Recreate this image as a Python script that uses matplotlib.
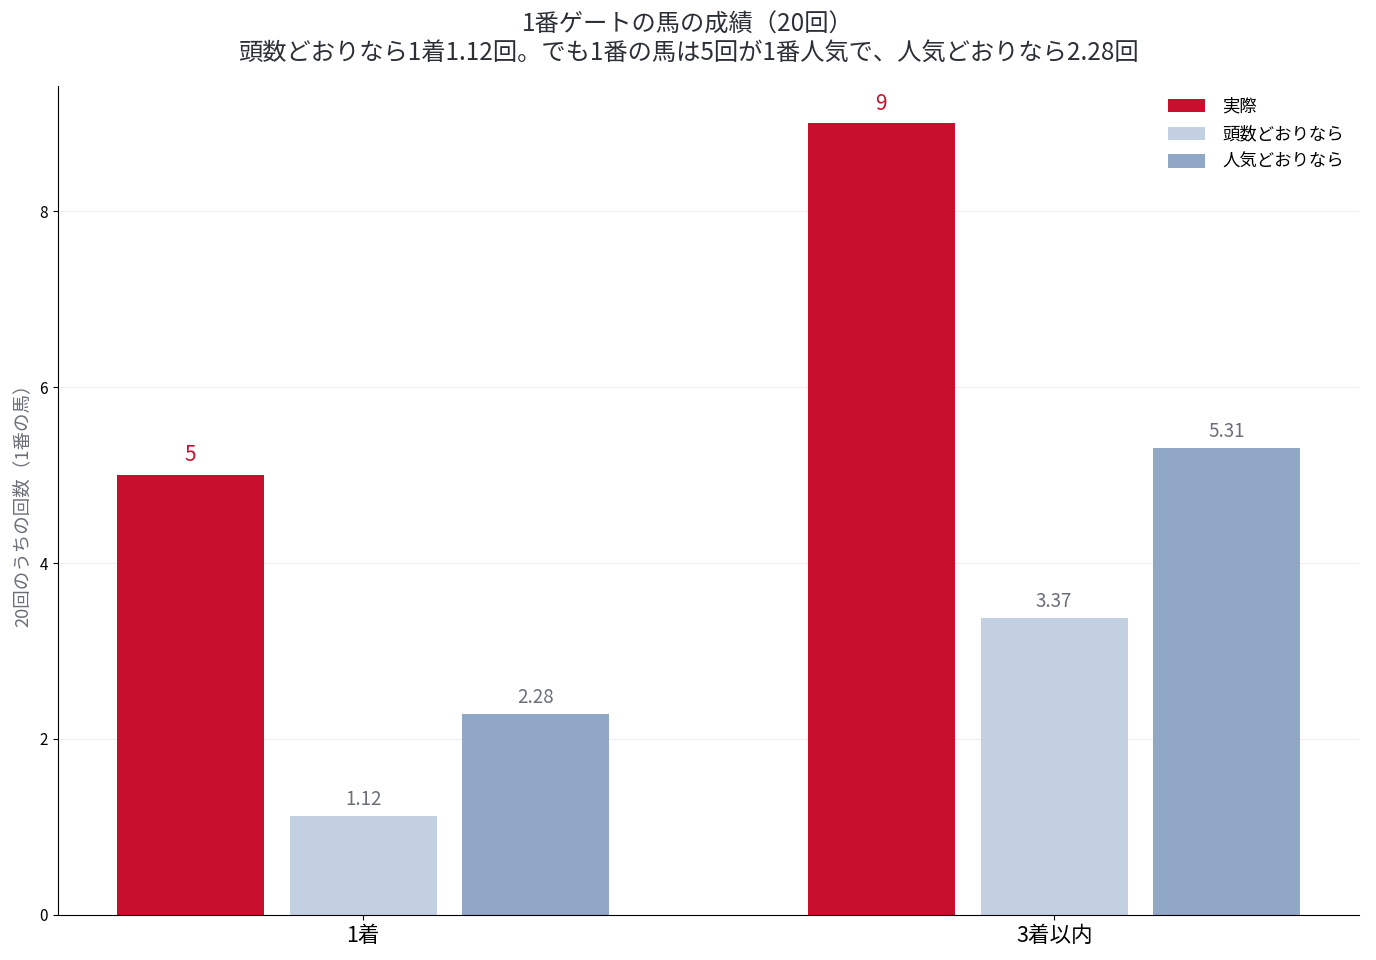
import matplotlib
matplotlib.use('Agg')
import matplotlib.pyplot as plt
import numpy as np

plt.rcParams['font.family'] = ['Noto Sans CJK JP', 'DejaVu Sans']

categories = ['1着', '3着以内']
series_names = ['実際', '頭数どおりなら', '人気どおりなら']
actual = [5, 9]
by_count = [1.12, 3.37]
by_popularity = [2.28, 5.31]
colors = ['#C8102E', '#C3D0E1', '#91A7C6']

fig = plt.figure(figsize=(13.76, 9.6), dpi=100)
ax = fig.add_axes([0.042, 0.047, 0.946, 0.863])

x = np.arange(len(categories))
w = 0.2125
offs = [-0.25, 0, 0.25]
values = [actual, by_count, by_popularity]
for i in range(3):
    bars = ax.bar(x + offs[i], values[i], w, color=colors[i], label=series_names[i], zorder=2)
    for b, v in zip(bars, values[i]):
        if i == 0:
            ax.text(b.get_x() + b.get_width() / 2, v + 0.1, f'{v}', ha='center', va='bottom',
                    color='#C8102E', fontsize=15)
        else:
            ax.text(b.get_x() + b.get_width() / 2, v + 0.07, f'{v:.2f}', ha='center', va='bottom',
                    color='#6b6f78', fontsize=13.5)

ax.set_ylim(0, 9.42)
ax.set_xticks(x)
ax.set_xticklabels(categories, fontsize=15.5)
ax.tick_params(axis='y', labelsize=11)
ax.set_yticks([0, 2, 4, 6, 8])
ax.yaxis.grid(True, color='#eeeeee', linewidth=0.8, zorder=0)
ax.set_axisbelow(True)
for s in ['top', 'right']:
    ax.spines[s].set_visible(False)
ax.set_ylabel('20回のうちの回数（1番の馬）', color='#6b6f78', fontsize=13.3, labelpad=6)

ax.legend(loc='upper right', bbox_to_anchor=(1.0, 1.005), frameon=False, fontsize=12.5,
          handlelength=2.1, handleheight=0.8, handletextpad=1.0, labelspacing=0.55)

fig.suptitle('1番ゲートの馬の成績（20回）\n頭数どおりなら1着1.12回。でも1番の馬は5回が1番人気で、人気どおりなら2.28回',
             fontsize=17.5, color='#2b2f36', y=0.988, linespacing=1.12)

fig.savefig('out.png', dpi=100)
